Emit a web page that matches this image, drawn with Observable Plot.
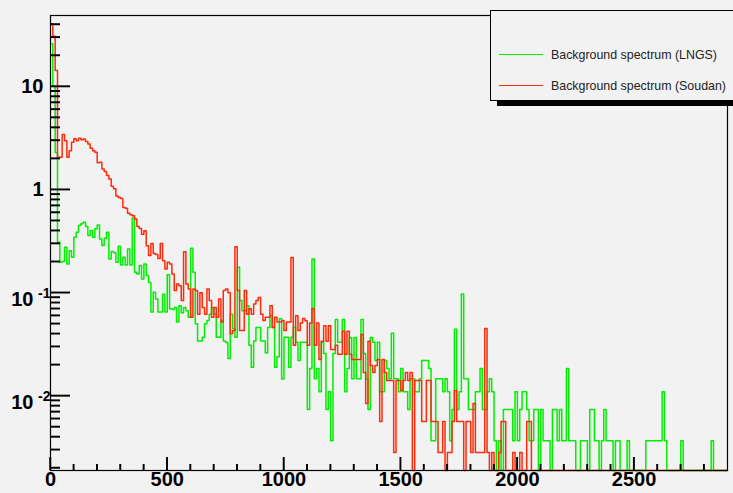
<!DOCTYPE html>
<html>
<head>
<meta charset="utf-8">
<script src="https://cdn.jsdelivr.net/npm/d3@7"></script>
<script src="https://cdn.jsdelivr.net/npm/@observablehq/plot@0.6"></script>
<style>
  html, body { margin: 0; padding: 0; background: #f2f2f2; }
  #wrap { position: relative; width: 733px; height: 493px; overflow: hidden; background: #f2f2f2; font-family: "Liberation Sans", Arial, Helvetica, sans-serif; }
  #legend { position: absolute; left: 490px; top: 10px; width: 270px; height: 89px; border: 1px solid #000; background: #f2f2f2; box-shadow: 7px 5px 0 #000; }
  .entry { position: absolute; left: 0; height: 16px; }
  .swatch { position: absolute; left: 8px; top: 7px; width: 44px; height: 0; border-top: 1.5px solid; }
  .label { position: absolute; left: 60px; top: 0; font-size: 12.4px; line-height: 16px; color: #222; white-space: nowrap; }
</style>
</head>
<body>
<div id="wrap">
  <div id="chart"></div>
  <div id="legend"></div>
</div>
<script>
// ---- data (bin width 10, 290 bins from 0 to 2900) ----
const binWidth = 10;
const xMax = 2900;
const yMin = 0.00189;
const yMax = 48.9;

const seriesNames = ["Background spectrum (LNGS)", "Background spectrum (Soudan)"];
const seriesColors = ["#00ee00", "#ff2a0a"];

const lngs = [
26, 10.1, 2.3, 0.31, 0.198, 0.201, 0.276, 0.19, 0.256, 0.221,
0.345, 0.386, 0.449, 0.466, 0.483, 0.44, 0.359, 0.401, 0.345, 0.417,
0.455, 0.333, 0.287, 0.338, 0.386, 0.213, 0.251, 0.244, 0.198, 0.283,
0.186, 0.221, 0.186, 0.266, 0.186, 0.53, 0.158, 0.152, 0.184, 0.136,
0.19, 0.147, 0.126, 0.065, 0.101, 0.087, 0.065, 0.065, 0.097, 0.065,
0.15, 0.070, 0.069, 0.072, 0.052, 0.075, 0.064, 0.072, 0.067, 0.058,
0.27, 0.158, 0.050, 0.034, 0.034, 0.037, 0.050, 0.054, 0.062, 0.072,
0.062, 0.037, 0.037, 0.054, 0.034, 0.033, 0.023, 0.062, 0.045, 0.037,
0.177, 0.084, 0.067, 0.067, 0.075, 0.031, 0.019, 0.034, 0.046, 0.046,
0.034, 0.034, 0.026, 0.046, 0.060, 0.046, 0.019, 0.024, 0.056, 0.0146,
0.037, 0.037, 0.019, 0.037, 0.046, 0.0331, 0.0221, 0.0331, 0.0331, 0.0331,
0.00736, 0.0184, 0.213, 0.0147, 0.0184, 0.011, 0.0331, 0.0258, 0.00736, 0.011,
0.00368, 0.0258, 0.0552, 0.0331, 0.0331, 0.0552, 0.011, 0.0184, 0.0368, 0.0147,
0.0368, 0.0147, 0.0147, 0.0552, 0.0258, 0.0147, 0.00736, 0.0368, 0.0331, 0.0221,
0.0331, 0.011, 0.011, 0.0221, 0.0184, 0.0147, 0.0405, 0.0147, 0.0147, 0.011,
0.0184, 0.011, 0.011, 0.00736, 0.0147, 0.0147, 0.011, 0.011, 0.0147, 0.0221,
0.0221, 0.0221, 0.0184, 0.00368, 0.00368, 0.0147, 0.0147, 0.0147, 0.011, 0.0147,
0.011, 0.00368, 0.00736, 0.0442, 0.00736, 0.011, 0.0975, 0.0147, 0.0147, 0.00736,
0.00736, 0.00736, 0.011, 0.011, 0.0184, 0.00736, 0.00736, 0.011, 0.0147, 0.011,
0.00368, 0, 0.00368, 0, 0.00736, 0.00736, 0.00736, 0.00736, 0.00368, 0.011,
0.00368, 0.00736, 0.011, 0.011, 0.00736, 0.00368, 0.00368, 0.00736, 0.00736, 0,
0.00736, 0.00368, 0.00368, 0.00368, 0, 0.00736, 0.00736, 0.00368, 0.00736, 0.00368,
0.00368, 0.0184, 0.00368, 0.00368, 0.00368, 0, 0, 0.00368, 0.00368, 0.00368,
0, 0.00736, 0.00736, 0.00368, 0.00368, 0, 0.00368, 0.00736, 0.00368, 0.00368,
0.00368, 0, 0.00368, 0.00368, 0, 0, 0, 0.00368, 0, 0,
0, 0, 0, 0, 0, 0.00368, 0.00368, 0.00368, 0.00368, 0.00368,
0.00368, 0.00368, 0.011, 0.00368, 0, 0, 0, 0, 0, 0,
0.00368, 0, 0, 0, 0, 0, 0, 0, 0, 0,
0, 0, 0, 0.00368, 0, 0, 0, 0, 0, 0
];

const soudan = [
40.6, 30.7, 14.3, 2.06, 2.06, 3.42, 2.99, 2.06, 2.39, 2.88,
3.11, 2.99, 3.15, 3.05, 3.10, 2.93, 2.78, 2.52, 2.39, 2.31,
1.82, 1.85, 1.59, 1.50, 1.37, 1.27, 1.08, 1.02, 0.87, 0.84,
0.82, 0.67, 0.66, 0.59, 0.57, 0.56, 0.52, 0.44, 0.42, 0.37,
0.40, 0.286, 0.23, 0.30, 0.24, 0.235, 0.215, 0.30, 0.205, 0.17,
0.198, 0.19, 0.152, 0.105, 0.122, 0.117, 0.084, 0.25, 0.122, 0.109,
0.058, 0.109, 0.105, 0.062, 0.100, 0.072, 0.062, 0.109, 0.084, 0.058,
0.072, 0.058, 0.087, 0.052, 0.105, 0.109, 0.100, 0.040, 0.043, 0.28,
0.105, 0.043, 0.043, 0.105, 0.062, 0.070, 0.062, 0.078, 0.084, 0.090,
0.062, 0.054, 0.058, 0.058, 0.075, 0.046, 0.058, 0.052, 0.052, 0.054,
0.043, 0.052, 0.052, 0.22, 0.031, 0.060, 0.043, 0.0508, 0.0564, 0.0536,
0.031, 0.0508, 0.0705, 0.031, 0.0508, 0.0226, 0.0338, 0.048, 0.0338, 0.048,
0.0282, 0.0282, 0.031, 0.0254, 0.0254, 0.0423, 0.0254, 0.0423, 0.0254, 0.0226,
0.0226, 0.0226, 0.0226, 0.0395, 0.0169, 0.00846, 0.0338, 0.0197, 0.0169, 0.0197,
0.0226, 0.00564, 0.0226, 0.0169, 0.0141, 0.0141, 0.0141, 0.00282, 0.0141, 0.0141,
0.0113, 0.0141, 0.0169, 0.0141, 0.0169, 0, 0.0141, 0.0141, 0.0141, 0.00564,
0.00564, 0.0141, 0.0141, 0.00564, 0.00564, 0.00564, 0.00282, 0.00282, 0.00564, 0,
0.00282, 0.00282, 0.00564, 0.0113, 0.00564, 0.00564, 0.00564, 0, 0.00564, 0.00564,
0.00282, 0.00846, 0.00282, 0.00282, 0.00282, 0.00282, 0.0451, 0.00282, 0, 0.00282,
0, 0, 0.00282, 0.00564, 0.00564, 0, 0, 0, 0.00282, 0,
0, 0.00282, 0, 0, 0.00564, 0.00564, 0, 0, 0, 0,
0, 0, 0, 0, 0, 0, 0, 0, 0, 0,
0, 0, 0, 0, 0, 0, 0, 0, 0, 0,
0, 0, 0, 0, 0, 0, 0, 0, 0, 0,
0, 0, 0, 0, 0, 0, 0, 0, 0, 0,
0, 0, 0, 0, 0, 0, 0, 0, 0, 0,
0, 0, 0, 0, 0, 0, 0, 0, 0, 0,
0, 0, 0, 0, 0, 0, 0, 0, 0, 0,
0, 0, 0, 0, 0, 0, 0, 0, 0, 0
].slice(0, 290);

const xMajorTicks = [0, 500, 1000, 1500, 2000, 2500];
const xMinorTicks = [100,200,300,400,600,700,800,900,1100,1200,1300,1400,1600,1700,1800,1900,2100,2200,2300,2400,2600,2700,2800];
const yMajorTicks = [0.01, 0.1, 1, 10];
const yMinorTicks = [0.002,0.003,0.004,0.005,0.006,0.007,0.008,0.009,
  0.02,0.03,0.04,0.05,0.06,0.07,0.08,0.09,
  0.2,0.3,0.4,0.5,0.6,0.7,0.8,0.9,
  2,3,4,5,6,7,8,9,20,30,40];
const yPlainLabels = [{v: 1, t: "1"}, {v: 10, t: "10"}];
const yExpLabels = [{v: 0.1, base: "10", exp: "-1"}, {v: 0.01, base: "10", exp: "-2"}];

// ---- build step tables ----
function steps(vals) {
  const pts = vals.map((v, i) => ({x: i * binWidth, y: Math.max(v, yMin)}));
  pts.push({x: vals.length * binWidth, y: Math.max(vals[vals.length - 1], yMin)});
  return pts;
}
const greenPts = steps(lngs);
const redPts = steps(soudan);

const W = 733, H = 493, mL = 50, mT = 15, mR = 6, mB = 23;
const frameW = W - mL - mR, frameH = H - mT - mB;
const font = "Liberation Sans, Arial, Helvetica, sans-serif";
const tickStroke = {stroke: "#000", strokeWidth: 1.4};

const chart = Plot.plot({
  width: W,
  height: H,
  marginLeft: mL,
  marginTop: mT,
  marginRight: mR,
  marginBottom: mB,
  style: {background: "#f2f2f2", fontFamily: font, color: "#000"},
  x: {domain: [0, xMax], axis: null},
  y: {type: "log", domain: [yMin, yMax], axis: null},
  marks: [
    Plot.lineY(greenPts, {x: "x", y: "y", curve: "step-after", stroke: seriesColors[0], strokeWidth: 1.5}),
    Plot.lineY(redPts, {x: "x", y: "y", curve: "step-after", stroke: seriesColors[1], strokeWidth: 1.5}),
    // x ticks (inside, pointing up)
    Plot.tickX(xMajorTicks, {x: d => d, insetTop: frameH - 13, ...tickStroke}),
    Plot.tickX(xMinorTicks, {x: d => d, insetTop: frameH - 6, ...tickStroke}),
    // y ticks (inside, pointing right)
    Plot.tickY(yMajorTicks, {y: d => d, insetRight: frameW - 20, ...tickStroke}),
    Plot.tickY(yMinorTicks, {y: d => d, insetRight: frameW - 10, ...tickStroke}),
    Plot.frame({stroke: "#000", strokeWidth: 1.2}),
    // x labels
    Plot.text(xMajorTicks, {x: d => d, frameAnchor: "bottom", dy: 15, text: d => String(d), fontSize: 20, fontWeight: "bold", fill: "#000"}),
    // y labels
    Plot.text(yPlainLabels, {y: "v", frameAnchor: "left", dx: -7, textAnchor: "end", text: "t", fontSize: 20, fontWeight: "bold", fill: "#000"}),
    Plot.text(yExpLabels, {y: "v", frameAnchor: "left", dx: -17, dy: 7, textAnchor: "end", text: "base", fontSize: 20, fontWeight: "bold", fill: "#000"}),
    Plot.text(yExpLabels, {y: "v", frameAnchor: "left", dx: 0, dy: 1, textAnchor: "end", text: "exp", fontSize: 14, fontWeight: "bold", fill: "#000"})
  ]
});
document.getElementById("chart").appendChild(chart);

// ---- reinforce tick marks through the chart's own scales ----
const xs = chart.scale("x"), ys = chart.scale("y");
const svg = d3.select(chart);
const tg = svg.append("g").attr("stroke", "#000").attr("stroke-width", 1.4);
function addX(vals, len) {
  vals.forEach(v => { const px = xs.apply(v); tg.append("line").attr("x1", px).attr("x2", px).attr("y1", H - mB).attr("y2", H - mB - len); });
}
function addY(vals, len) {
  vals.forEach(v => { const py = ys.apply(v); tg.append("line").attr("x1", mL).attr("x2", mL + len).attr("y1", py).attr("y2", py); });
}
addX(xMajorTicks, 13); addX(xMinorTicks, 6);
addY(yMajorTicks, 20); addY(yMinorTicks, 10);

// ---- legend ----
const legend = document.getElementById("legend");
seriesNames.forEach((name, i) => {
  const e = document.createElement("div");
  e.className = "entry";
  e.style.top = (36 + i * 31) + "px";
  const sw = document.createElement("div");
  sw.className = "swatch";
  sw.style.borderTopColor = seriesColors[i];
  const lb = document.createElement("div");
  lb.className = "label";
  lb.textContent = name;
  e.appendChild(sw);
  e.appendChild(lb);
  legend.appendChild(e);
});
</script>
</body>
</html>
